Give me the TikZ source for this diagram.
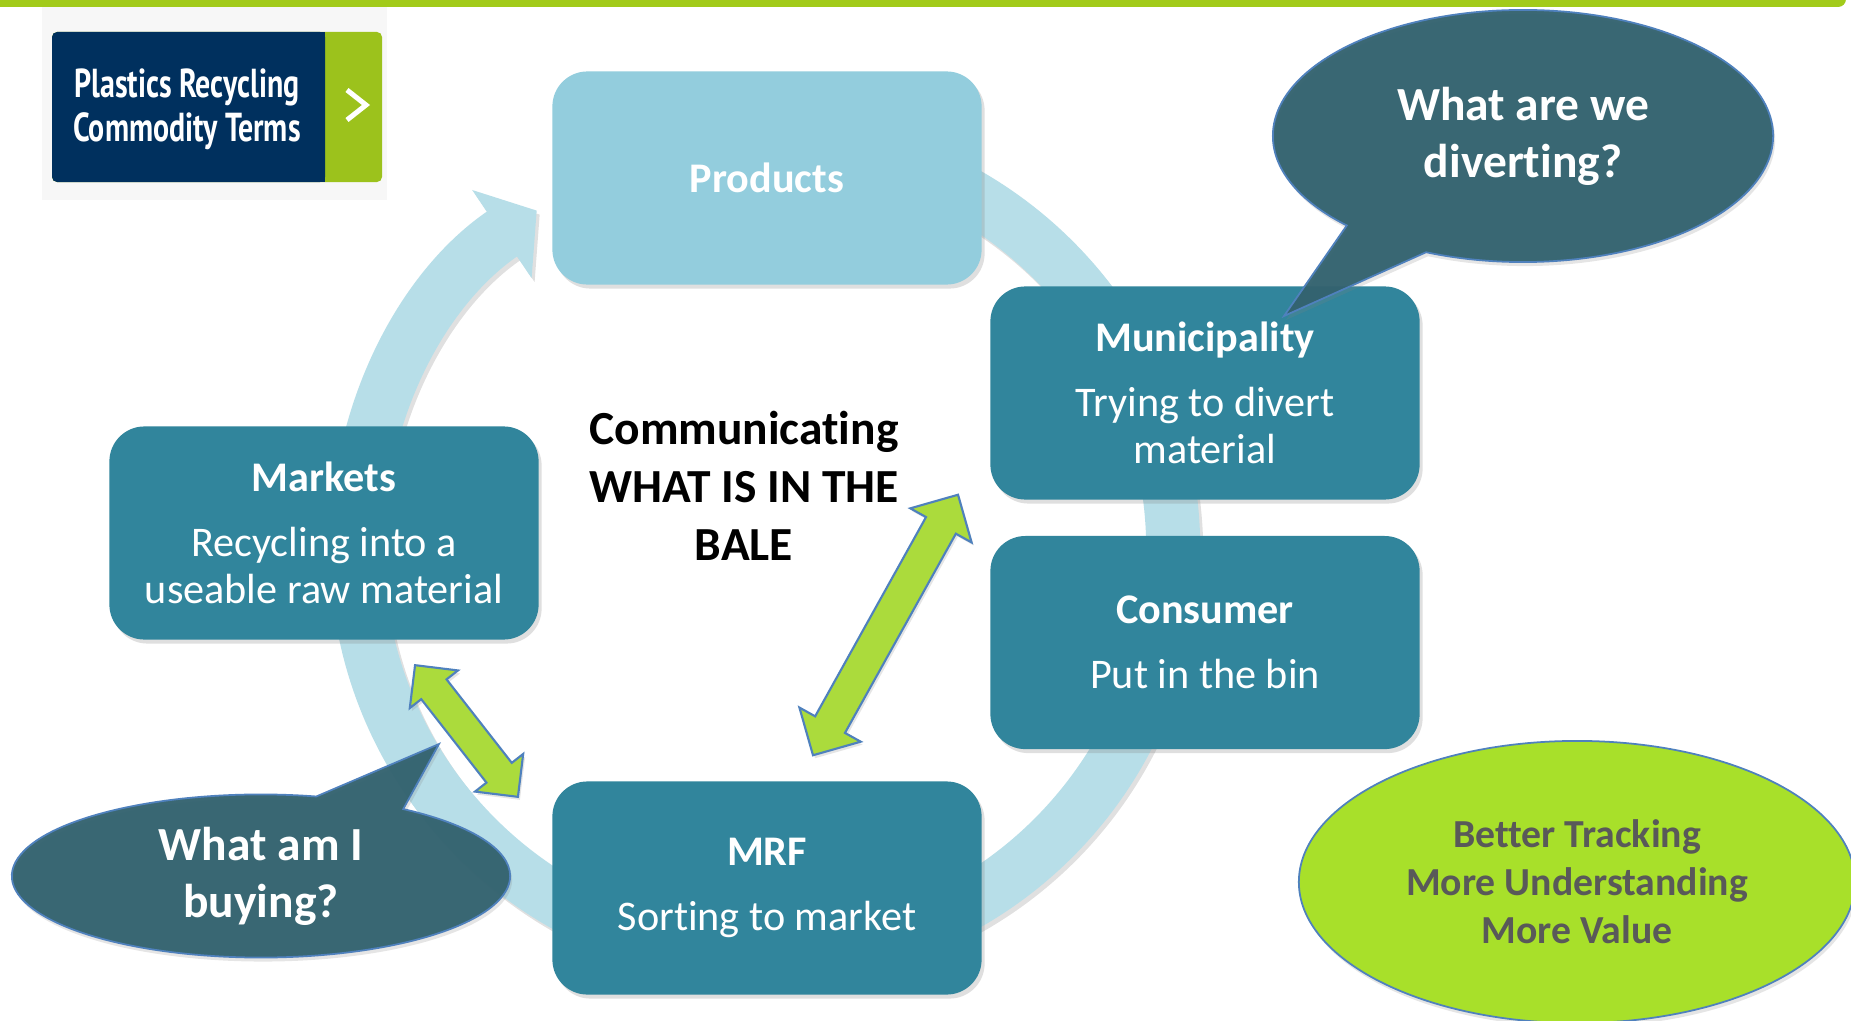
\documentclass[tikz,border=0pt]{standalone}
\usepackage{fontspec}
\setmainfont{Carlito}[Ligatures=NoCommon]
\newfontfamily\logofont[FakeStretch=0.74]{PT Sans}
\usetikzlibrary{arrows.meta, positioning, calc, shapes.arrows, shapes.callouts, shapes.geometric, shadows}

\definecolor{ringblue}{HTML}{B7DEE8}
\definecolor{prodblue}{HTML}{93CDDD}
\definecolor{stageteal}{HTML}{31859C}
\definecolor{bubbleslate}{HTML}{33626F}
\definecolor{edgeblue}{HTML}{4F81BD}
\definecolor{arrowgreen}{HTML}{ABDB3C}
\definecolor{ovalgreen}{HTML}{A8E02A}
\definecolor{ovaltext}{HTML}{595959}
\definecolor{logonavy}{HTML}{00305E}
\definecolor{logogreen}{HTML}{9CC21C}
\definecolor{bargreen}{HTML}{A2CB1A}

\begin{document}
\begin{tikzpicture}[x=0.01cm, y=0.01cm]
	\tikzset{
		stage/.style={rectangle, rounded corners=0.35cm, minimum width=4.29cm, minimum height=2.13cm, fill=stageteal, text=white, align=center, font=\fontsize{12}{13.4}\selectfont, drop shadow={shadow xshift=0.03cm, shadow yshift=-0.04cm, opacity=0.25}},
		bubble/.style={ellipse callout, callout pointer arc=22, fill=bubbleslate, fill opacity=0.96, text opacity=1, draw=edgeblue, line width=0.5pt, text=white, align=center, inner sep=0pt, font=\bfseries\fontsize{13.5}{16.2}\selectfont, drop shadow={shadow xshift=0.02cm, shadow yshift=-0.04cm, opacity=0.2}},
		twoway/.style={double arrow, double arrow head extend=0.18cm, double arrow tip angle=90, inner xsep=0pt, inner ysep=0.16cm, fill=arrowgreen, draw=edgeblue, line width=0.6pt, drop shadow={shadow xshift=0.02cm, shadow yshift=-0.03cm, opacity=0.2}}
	}

	\useasboundingbox (0,0) rectangle (1851,1020);
	\fill[white] (0,0) rectangle (1851,1020);
	\fill[bargreen, rounded corners=0.08cm] (-20,1013) rectangle (1846,1040);

	% logo
	\fill[black!3] (42,820) rectangle (387,1013);
	\fill[logogreen, rounded corners=0.05cm] (52,838) rectangle (382,988);
	\fill[logonavy, rounded corners=0.05cm] (52,838) rectangle (325,988);
	\fill[logonavy] (300,838) rectangle (325,988);
	\node[text=white, align=center, font=\logofont\bfseries\fontsize{11.5}{12.5}\selectfont] (logotext) at (187,911) {Plastics Recycling\\Commodity Terms};
	\draw[white, line width=0.05cm] (347,930) -- (366,915) -- (347,900);

	% cycle ring
	\coordinate (hub) at (765,471);
	\draw[line width=0.54cm, black, opacity=0.12, -{Triangle[width=1.04cm, length=0.42cm]}] ([shift={(3,-4)}]hub) ++(95:4.08cm) arc[start angle=95, end angle=-236, radius=4.08cm];
	\draw[line width=0.54cm, ringblue, -{Triangle[width=1.04cm, length=0.42cm]}] (hub) ++(95:4.08cm) arc[start angle=95, end angle=-236, radius=4.08cm];

	\node[stage, fill=prodblue, font=\bfseries\fontsize{12}{13.4}\selectfont] (products) at (767,842) {Products};
	\node[stage] (muni) at (1205,627) {\textbf{Municipality}\\[5pt]Trying to divert\\material};
	\node[stage, below=0.35cm of muni] (consumer) {\textbf{Consumer}\\[5pt]Put in the bin};
	\node[stage] (mrf) at (767,132) {\textbf{MRF}\\[5pt]Sorting to market};
	\node[stage] (markets) at (324,487) {\textbf{Markets}\\[5pt]Recycling into a\\useable raw material};

	\node[font=\bfseries\fontsize{13.5}{16.5}\selectfont, align=center] (bale) at (744,534) {Communicating\\WHAT IS IN THE\\BALE};

	% two-way arrows
	\coordinate (mrfend) at (813,265);
	\coordinate (muniend) at (958,525);
	\coordinate (marketend) at (415,355);
	\coordinate (mrfside) at (518,223);
	\node[twoway, minimum height=2.98cm, rotate=60.9] (longway) at ($(mrfend)!0.5!(muniend)$) {};
	\node[twoway, minimum height=1.67cm, inner ysep=0.15cm, double arrow head extend=0.145cm, rotate=-52] (shortway) at ($(marketend)!0.5!(mrfside)$) {};

	% callouts
	\coordinate (muniask) at (1284,704);
	\coordinate (marketask) at (439,276);
	\node[bubble, minimum width=5cm, minimum height=2.52cm, callout absolute pointer={(muniask)}] (divert) at (1523,884) {What are we\\diverting?};
	\node[bubble, minimum width=4.98cm, minimum height=1.63cm, callout absolute pointer={(marketask)}] (buying) at (261,144) {What am I\\buying?};

	\node[ellipse, fill=ovalgreen, draw=edgeblue, line width=0.5pt, minimum width=5.56cm, minimum height=2.82cm, text=ovaltext, align=center, font=\bfseries\fontsize{11.3}{13.7}\selectfont, drop shadow={shadow xshift=0.02cm, shadow yshift=-0.04cm, opacity=0.2}] (value) at (1577,138) {Better Tracking\\More Understanding\\More Value};
\end{tikzpicture}
\end{document}
